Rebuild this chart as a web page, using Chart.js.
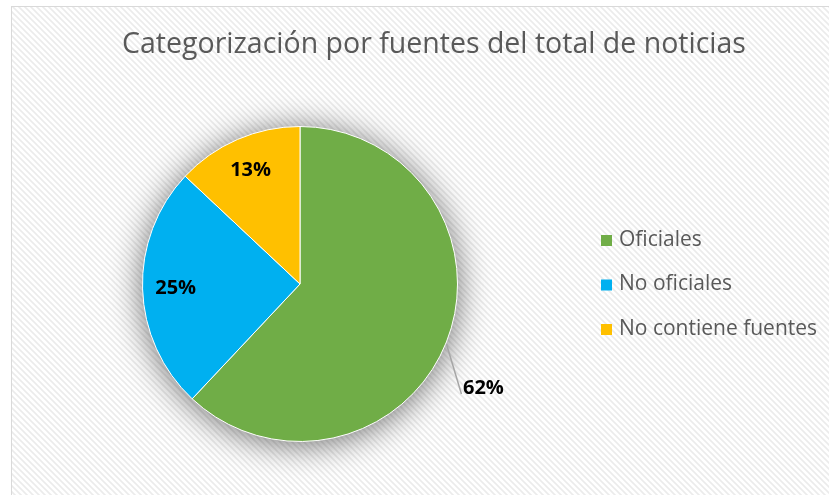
<!DOCTYPE html>
<html>
<head>
<meta charset="utf-8">
<script src="https://cdn.jsdelivr.net/npm/chart.js@4.4.0/dist/chart.umd.min.js"></script>
<style>
  html, body { margin: 0; padding: 0; background: #fff; }
  #wrap { position: relative; width: 834px; height: 495px; }
  #frame { position: absolute; left: 11px; top: 6px; width: 818px; height: 495px;
           border: 1px solid #d9d9d9; border-bottom: none; box-sizing: border-box; }
  canvas { position: absolute; left: 0; top: 0; }
</style>
</head>
<body>
<div id="wrap">
  <div id="frame"></div>
  <canvas id="chart" width="834" height="495"></canvas>
</div>
<script>
// data
const title = 'Categorización por fuentes del total de noticias';
const categories = ['Oficiales', 'No oficiales', 'No contiene fuentes'];
const values = [62, 25, 13];
const colors = ['#70AD47', '#00B0F0', '#FFC000'];

// hatch background for the frame
function makeHatch(ctx) {
    const p = document.createElement('canvas');
    p.width = 6; p.height = 6;
    const g = p.getContext('2d');
    g.fillStyle = '#ffffff';
    g.fillRect(0, 0, 6, 6);
    g.strokeStyle = '#ebebeb';
    g.lineWidth = 1.6;
    g.beginPath();
    g.moveTo(-1, -1); g.lineTo(7, 7);
    g.moveTo(-4, 2); g.lineTo(4, 10);
    g.moveTo(2, -4); g.lineTo(10, 4);
    g.stroke();
    return ctx.createPattern(p, 'repeat');
}

const backgroundPlugin = {
    id: 'bg',
    beforeDraw(chart) {
        const ctx = chart.ctx;
        ctx.save();
        ctx.fillStyle = makeHatch(ctx);
        ctx.fillRect(12, 7, 817, 488);
        ctx.restore();
    }
};

const titlePlugin = {
    id: 'titleText',
    afterDraw(chart) {
        const ctx = chart.ctx;
        ctx.save();
        ctx.font = '28.5px "Open Sans", sans-serif';
        ctx.fillStyle = '#595959';
        ctx.textAlign = 'center';
        ctx.textBaseline = 'middle';
        ctx.fillText(title, 434, 45);
        ctx.restore();
    }
};

// soft glow under the pie: draw a blurred disc before the slices
const shadowPlugin = {
    id: 'pieShadow',
    beforeDatasetsDraw(chart) {
        const ctx = chart.ctx;
        const arc = chart.getDatasetMeta(0).data[0];
        ctx.save();
        ctx.shadowColor = 'rgba(0,0,0,0.6)';
        ctx.shadowBlur = 34;
        ctx.shadowOffsetY = 3;
        ctx.fillStyle = '#ffffff';
        ctx.beginPath();
        ctx.arc(arc.x, arc.y, arc.outerRadius - 1, 0, Math.PI * 2);
        ctx.fill();
        ctx.restore();
    }
};

// labels: inside for small slices, leader line for the big one
const labelPlugin = {
    id: 'sliceLabels',
    afterDatasetsDraw(chart) {
        const ctx = chart.ctx;
        const meta = chart.getDatasetMeta(0);
        ctx.save();
        ctx.font = 'bold 20px "Open Sans", sans-serif';
        ctx.fillStyle = '#000';
        ctx.textAlign = 'center';
        ctx.textBaseline = 'middle';
        meta.data.forEach((arc, i) => {
            const mid = (arc.startAngle + arc.endAngle) / 2;
            const text = values[i] + '%';
            if (i === 0) {
                const ex = arc.x + Math.cos(mid) * arc.outerRadius;
                const ey = arc.y + Math.sin(mid) * arc.outerRadius;
                ctx.strokeStyle = '#a6a6a6';
                ctx.lineWidth = 1.5;
                ctx.beginPath();
                ctx.moveTo(ex, ey + 2);
                ctx.lineTo(ex + 15, ey + 52);
                ctx.stroke();
                ctx.fillText(text, ex + 37, ey + 46);
            } else {
                const r = arc.outerRadius * 0.79;
                ctx.fillText(text, arc.x + Math.cos(mid) * r, arc.y + Math.sin(mid) * r);
            }
        });
        ctx.restore();
    }
};

const legendPlugin = {
    id: 'sideLegend',
    afterDraw(chart) {
        const ctx = chart.ctx;
        ctx.save();
        ctx.font = '21px "Open Sans", sans-serif';
        ctx.textBaseline = 'middle';
        categories.forEach((name, i) => {
            const y = 240 + i * 44.5;
            ctx.fillStyle = colors[i];
            ctx.fillRect(601, y - 5, 11, 11);
            ctx.fillStyle = '#595959';
            ctx.fillText(name, 619, y);
        });
        ctx.restore();
    }
};

new Chart(document.getElementById('chart'), {
    type: 'pie',
    data: {
        labels: categories,
        datasets: [{
            data: values,
            backgroundColor: colors,
            borderColor: '#ffffff',
            borderWidth: 1
        }]
    },
    options: {
        responsive: false,
        animation: false,
        layout: { padding: { left: 142, right: 376, top: 126, bottom: 53 } },
        plugins: {
            legend: { display: false },
            title: { display: false },
            tooltip: { enabled: false }
        }
    },
    plugins: [backgroundPlugin, shadowPlugin, labelPlugin, titlePlugin, legendPlugin]
});
</script>
</body>
</html>
